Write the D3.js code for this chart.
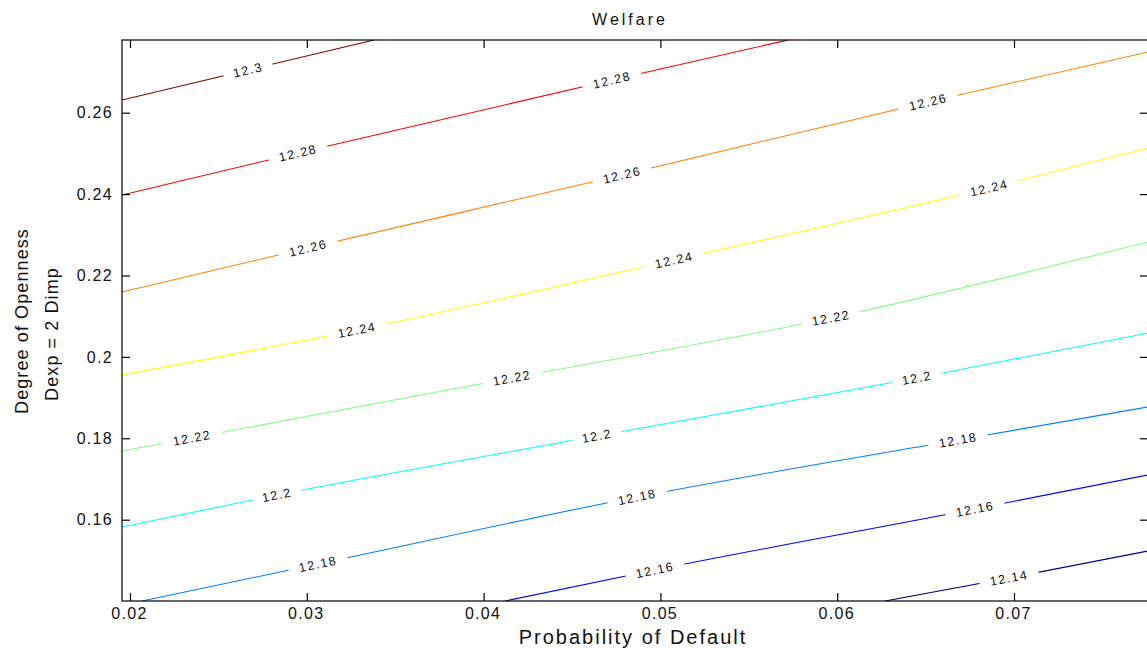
<!DOCTYPE html>
<html><head><meta charset="utf-8">
<script src="https://cdn.jsdelivr.net/npm/d3@7"></script>
<style>
body{margin:0;background:#fff;}
text{font-family:"Liberation Sans",Arial,sans-serif;fill:#111;}
</style></head>
<body><svg id="c" width="1147" height="652"></svg>
<script>
// ---- data ----
const levels = [12.3, 12.28, 12.26, 12.24, 12.22, 12.2, 12.18, 12.16, 12.14];
const levelText = ["12.3","12.28","12.26","12.24","12.22","12.2","12.18","12.16","12.14"];
const lineColors = ["#800000","#ff0000","#ff8000","#ffff00","#80ff80","#00ffff","#0080ff","#0000ff","#000080"];
// contour paths [probability of default, degree of openness]
const c1230 = [[0.01955,0.26312],[0.02667,0.27049],[0.0338,0.27786]];
const c1228 = [[0.01955,0.23978],[0.0295,0.2501],[0.04726,0.26803],[0.05722,0.27786]];
const c1226 = [[0.01955,0.21595],[0.03007,0.22676],[0.04783,0.24469],[0.06514,0.26263],[0.07758,0.27491]];
const c1224 = [[0.01955,0.19555],[0.03284,0.20661],[0.05077,0.22381],[0.06859,0.2415],[0.07758,0.25133]];
const c1222 = [[0.01955,0.17688],[0.02351,0.18007],[0.04161,0.19482],[0.05965,0.20956],[0.07758,0.22823]];
const c1220 = [[0.01955,0.15821],[0.02831,0.16607],[0.04641,0.18056],[0.06451,0.19482],[0.07758,0.20587]];
const c1218 = [[0.02068,0.14002],[0.03063,0.14911],[0.04868,0.16558],[0.06683,0.17958],[0.07758,0.18769]];
const c1216 = [[0.04121,0.14002],[0.04969,0.14764],[0.06779,0.16263],[0.07758,0.171]];
const c1214 = [[0.0627,0.14002],[0.06972,0.14568],[0.07758,0.15231]];
const contours = [c1230,c1228,c1226,c1224,c1222,c1220,c1218,c1216,c1214];
// x positions of inline labels for each level
const labelXs = [[0.02667],[0.0295,0.04726],[0.03007,0.04783,0.06514],[0.03284,0.05077,0.06859],
  [0.02351,0.04161,0.05965],[0.02831,0.04641,0.06451],[0.03063,0.04868,0.06683],[0.04969,0.06779],[0.06972]];
const xTicks = [0.02,0.03,0.04,0.05,0.06,0.07];
const yTicks = [0.16,0.18,0.2,0.22,0.24,0.26];
const xDomain = [0.019548, 0.077579];
const yDomain = [0.14002, 0.277862];

// ---- layout ----
const svg = d3.select("#c");
const L=122, T=40, R=1148, B=601;
const x = d3.scaleLinear().domain(xDomain).range([L,R]);
const y = d3.scaleLinear().domain(yDomain).range([B,T]);

const defs = svg.append("defs");
defs.append("clipPath").attr("id","clip").append("rect").attr("x",L).attr("y",T).attr("width",R-L).attr("height",B-T);

const line = d3.line().x(d=>x(d[0])).y(d=>y(d[1])).curve(d3.curveMonotoneX);

function interp(pts, xv){
  for(let i=0;i<pts.length-1;i++){
    const a=pts[i], b=pts[i+1];
    if(xv>=a[0] && xv<=b[0]){
      const t=(xv-a[0])/(b[0]-a[0]);
      return [a[1]+t*(b[1]-a[1]), Math.atan2(y(b[1])-y(a[1]), x(b[0])-x(a[0]))];
    }
  }
  return [pts[0][1],0];
}

// masks for label gaps
const mask = defs.append("mask").attr("id","gaps").attr("maskUnits","userSpaceOnUse")
  .attr("x",0).attr("y",0).attr("width",1147).attr("height",652);
mask.append("rect").attr("x",0).attr("y",0).attr("width",1147).attr("height",652).attr("fill","#fff");
const labels=[];
contours.forEach((pts,i)=>{
  labelXs[i].forEach(lx=>{
    const [ly,ang]=interp(pts,lx);
    labels.push({px:x(lx),py:y(ly),deg:ang*180/Math.PI,text:levelText[i]});
  });
});
labels.forEach(d=>{
  const w = d.text.length===4?50:60;
  mask.append("rect").attr("x",-w/2).attr("y",-8).attr("width",w).attr("height",16)
    .attr("fill","#000").attr("transform",`translate(${d.px},${d.py}) rotate(${d.deg})`);
});

const g = svg.append("g").attr("clip-path","url(#clip)");
g.append("g").attr("mask","url(#gaps)").selectAll("path").data(contours).join("path")
  .attr("d",line).attr("fill","none").attr("stroke",(d,i)=>lineColors[i]).attr("stroke-width",1.1);

svg.append("g").selectAll("text").data(labels).join("text")
  .attr("transform",d=>`translate(${d.px},${d.py}) rotate(${d.deg})`)
  .attr("text-anchor","middle").attr("dy","0.35em")
  .style("font-size","12.5px").style("letter-spacing","1.5px")
  .text(d=>d.text);

// frame
svg.append("rect").attr("x",L).attr("y",T).attr("width",R-L).attr("height",B-T)
  .attr("fill","none").attr("stroke","#000").attr("stroke-width",1.2);

// axes (ticks inward)
const fmt = d=>String(+d.toFixed(2));
const xb = svg.append("g").attr("transform",`translate(0,${B})`)
  .call(d3.axisBottom(x).tickValues(xTicks).tickSize(-8).tickPadding(7).tickFormat(fmt));
const xt = svg.append("g").attr("transform",`translate(0,${T})`)
  .call(d3.axisTop(x).tickValues(xTicks).tickSize(-8).tickFormat(""));
const yl = svg.append("g").attr("transform",`translate(${L},0)`)
  .call(d3.axisLeft(y).tickValues(yTicks).tickSize(-8).tickPadding(9).tickFormat(fmt));
const yr = svg.append("g").attr("transform",`translate(${R},0)`)
  .call(d3.axisRight(y).tickValues(yTicks).tickSize(-8).tickFormat(""));
[xb,xt,yl,yr].forEach(a=>{
  a.select(".domain").remove();
  a.selectAll(".tick line").attr("stroke","#000").attr("stroke-width",1.2);
  a.selectAll("text").style("font-size","16px").style("letter-spacing","1.3px")
   .style("font-family","'Liberation Sans',Arial,sans-serif").attr("fill","#222");
});
xb.selectAll("text").attr("dx","-1px");

// titles
svg.append("text").attr("x",630).attr("y",25).attr("text-anchor","middle")
  .style("font-size","16px").style("letter-spacing","3px").text("Welfare");
svg.append("text").attr("x",633).attr("y",644).attr("text-anchor","middle")
  .style("font-size","20px").style("letter-spacing","2px").text("Probability of Default");
svg.append("text").attr("transform","translate(28,321) rotate(-90)").attr("text-anchor","middle")
  .style("font-size","18px").style("letter-spacing","1.1px").text("Degree of Openness");
svg.append("text").attr("transform","translate(58,334) rotate(-90)").attr("text-anchor","middle")
  .style("font-size","18px").style("letter-spacing","1.1px").text("Dexp = 2 Dimp");
</script></body></html>
